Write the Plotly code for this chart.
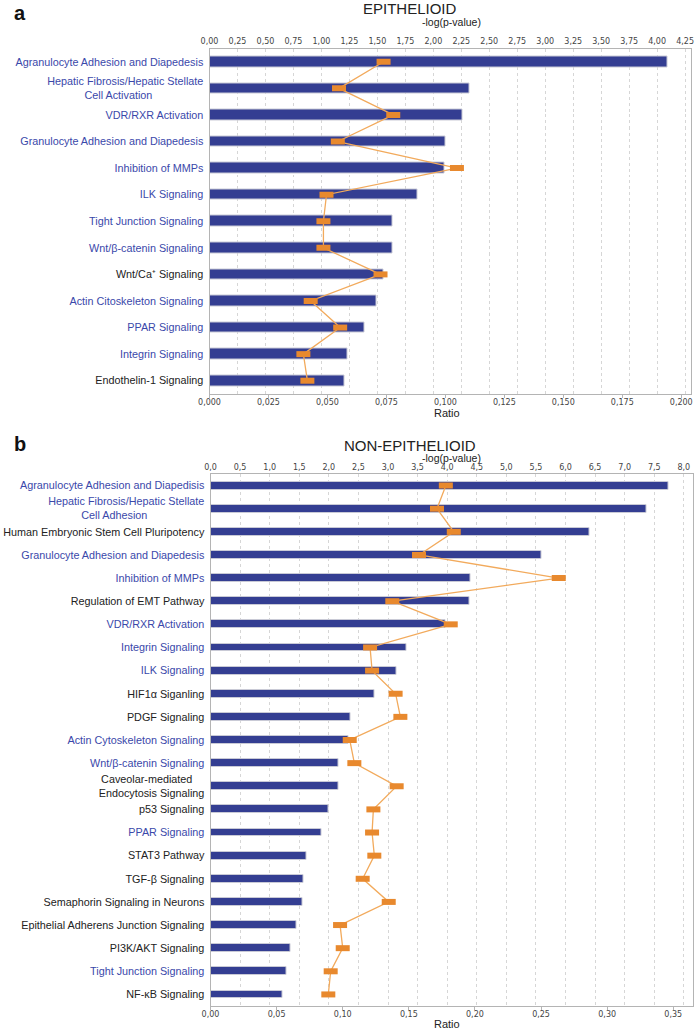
import plotly.graph_objects as go

# ---------------- Data ----------------
epi_labels = [
    "Agranulocyte Adhesion and Diapedesis",
    "Hepatic Fibrosis/Hepatic Stellate<br>Cell Activation",
    "VDR/RXR Activation",
    "Granulocyte Adhesion and Diapedesis",
    "Inhibition of MMPs",
    "ILK Signaling",
    "Tight Junction Signaling",
    "Wnt/β-catenin Signaling",
    "Wnt/Ca⁺ Signaling",
    "Actin Citoskeleton Signaling",
    "PPAR Signaling",
    "Integrin Signaling",
    "Endothelin-1 Signaling",
]
epi_blue = [1, 1, 1, 1, 1, 1, 1, 1, 0, 1, 1, 1, 0]
epi_logp = [4.09, 2.32, 2.26, 2.105, 2.10, 1.856, 1.633, 1.633, 1.553, 1.491, 1.387, 1.23, 1.203]
epi_ratio = [0.0738, 0.0549, 0.0779, 0.0544, 0.1049, 0.0496, 0.0483, 0.0483, 0.0725, 0.0429, 0.0554, 0.0398, 0.0415]

non_labels = [
    "Agranulocyte Adhesion and Diapedisis",
    "Hepatic Fibrosis/Hepatic Stellate<br>Cell Adhesion",
    "Human Embryonic Stem Cell Pluripotency",
    "Granulocyte Adhesion and Diapedesis",
    "Inhibition of MMPs",
    "Regulation of EMT Pathway",
    "VDR/RXR Activation",
    "Integrin Signaling",
    "ILK Signaling",
    "HIF1α Siganling",
    "PDGF Signaling",
    "Actin Cytoskeleton Signaling",
    "Wnt/β-catenin Signaling",
    "Caveolar-mediated<br>Endocytosis Signaling",
    "p53 Signaling",
    "PPAR Signaling",
    "STAT3 Pathway",
    "TGF-β Signaling",
    "Semaphorin Signaling in Neurons",
    "Epithelial Adherens Junction Signaling",
    "PI3K/AKT Signaling",
    "Tight Junction Signaling",
    "NF-κB Signaling",
]
non_blue = [1, 1, 0, 1, 1, 0, 1, 1, 1, 0, 0, 1, 1, 0, 0, 1, 0, 0, 0, 0, 0, 1, 0]
non_logp = [7.735, 7.37, 6.41, 5.60, 4.39, 4.37, 3.97, 3.31, 3.15, 2.77, 2.37, 2.33, 2.155,
            2.155, 1.99, 1.88, 1.63, 1.575, 1.56, 1.45, 1.355, 1.28, 1.215]
non_ratio = [0.178, 0.1713, 0.184, 0.1577, 0.2634, 0.1375, 0.1817, 0.1207, 0.1222, 0.140,
             0.1436, 0.1053, 0.1088, 0.1408, 0.1232, 0.1222, 0.1239, 0.1151, 0.1348, 0.098,
             0.100, 0.0909, 0.0891]

epi_logp_ticks = [i * 0.25 for i in range(18)]
epi_ratio_ticks = [i * 0.025 for i in range(9)]
non_logp_ticks = [i * 0.5 for i in range(17)]
non_ratio_ticks = [i * 0.05 for i in range(8)]

# ---------------- Styles ----------------
BAR = "#343e92"
BLUE_TXT = "#3a48aa"
BLACK_TXT = "#222222"
ORANGE_LINE = "#f2aa5c"
ORANGE_MK = "#e8892e"
AXIS_GRAY = "#b4b4b4"
GRID = "#d6d6d6"
TICKFONT = dict(family="DejaVu Sans", size=8, color="#444444")
LABELFONT = dict(family="Liberation Sans, Arial", size=10.8)


def colored(labels, flags):
    """Colour each tick label; centre multi-line labels by padding the shorter line."""
    out = []
    for lab, b in zip(labels, flags):
        c = BLUE_TXT if b else BLACK_TXT
        parts = lab.split("<br>")
        if len(parts) > 1:
            longest = max(len(p) for p in parts)
            parts = [p + ("\u00a0" * round((longest - len(p)) * 5.7 / 2 / 3.0) + "\u200b"
                          if len(p) < longest else "") for p in parts]
        out.append("<br>".join(f'<span style="color:{c}">{p}</span>' for p in parts))
    return out


fig = go.Figure()

MK = dict(symbol="line-ew", size=10, line=dict(color=ORANGE_MK, width=6))

# Panel a: bars on x (top, -log p), line on x2 (bottom, ratio) overlaying
fig.add_trace(go.Bar(
    y=epi_labels, x=epi_logp, orientation="h", xaxis="x", yaxis="y",
    marker=dict(color=BAR, line=dict(color="#c9cad6", width=1)), width=0.40,
    showlegend=False))
fig.add_trace(go.Scatter(
    y=epi_labels, x=epi_ratio, xaxis="x2", yaxis="y", mode="lines+markers",
    line=dict(color=ORANGE_LINE, width=1.3), marker=MK, showlegend=False))

# Panel b
fig.add_trace(go.Bar(
    y=non_labels, x=non_logp, orientation="h", xaxis="x3", yaxis="y3",
    marker=dict(color=BAR, line=dict(color="#c9cad6", width=1)), width=0.34,
    showlegend=False))
fig.add_trace(go.Scatter(
    y=non_labels, x=non_ratio, xaxis="x4", yaxis="y3", mode="lines+markers",
    line=dict(color=ORANGE_LINE, width=1.3), marker=MK, showlegend=False))

W, H = 697, 1030
xa0, xa1 = 209.5 / W, 690.7 / W
ya_top, ya_bot = 1 - 48.5 / H, 1 - 394 / H
xb0, xb1 = 210.5 / W, 692.7 / W
yb_top, yb_bot = 1 - 474 / H, 1 - 1006 / H

common_x = dict(showline=True, linecolor=AXIS_GRAY, linewidth=1, mirror=False,
                tickfont=TICKFONT, zeroline=False, fixedrange=True, automargin=False)
common_y = dict(tickfont=LABELFONT, showline=True, linecolor=AXIS_GRAY, mirror=True,
                showgrid=False, ticks="", ticklabelstandoff=3, fixedrange=True,
                automargin=False, tickmode="array")

fig.update_layout(
    width=W, height=H,
    margin=dict(l=0, r=0, t=0, b=0),
    paper_bgcolor="white", plot_bgcolor="white",
    separators=", ",
    bargap=0,
    # ---- panel a
    xaxis=dict(domain=[xa0, xa1], anchor="y", side="top", range=[0, 4.30],
               tickvals=epi_logp_ticks, tickformat=".2f", showgrid=True,
               gridcolor=GRID, griddash="dot", gridwidth=1, ticks="", **common_x),
    xaxis2=dict(domain=[xa0, xa1], anchor="y", overlaying="x", side="bottom", range=[0, 0.2040],
                tickvals=epi_ratio_ticks, tickformat=".3f", showgrid=False,
                ticks="outside", ticklen=3, tickcolor=AXIS_GRAY, ticklabelstandoff=-3, **common_x),
    yaxis=dict(domain=[ya_bot, ya_top], anchor="x", range=[len(epi_labels) - 0.5, -0.5],
               tickvals=epi_labels, ticktext=colored(epi_labels, epi_blue), **common_y),
    # ---- panel b
    xaxis3=dict(domain=[xb0, xb1], anchor="y3", side="top", range=[0, 8.15],
                tickvals=non_logp_ticks, tickformat=".1f", showgrid=True,
                gridcolor=GRID, griddash="dot", gridwidth=1, ticks="", **common_x),
    xaxis4=dict(domain=[xb0, xb1], anchor="y3", overlaying="x3", side="bottom", range=[0, 0.3647],
                tickvals=non_ratio_ticks, tickformat=".2f", showgrid=False,
                ticks="outside", ticklen=3, tickcolor=AXIS_GRAY, ticklabelstandoff=-3, **common_x),
    yaxis3=dict(domain=[yb_bot, yb_top], anchor="x3", range=[len(non_labels) - 0.5, -0.5],
                tickvals=non_labels, ticktext=colored(non_labels, non_blue), **common_y),
)

FONT = "Liberation Sans, Arial"
ann = [
    dict(text="<b>a</b>", x=20 / W, y=1 - 13 / H, font=dict(size=20, family=FONT, color="#111")),
    dict(text="EPITHELIOID", x=410 / W, y=1 - 9 / H, font=dict(size=15, family=FONT, color="#222")),
    dict(text="-log(p-value)", x=452 / W, y=1 - 22 / H, font=dict(size=10.5, family=FONT, color="#222")),
    dict(text="Ratio", x=447 / W, y=1 - 413 / H, font=dict(size=11, family=FONT, color="#222")),
    dict(text="<b>b</b>", x=20 / W, y=1 - 444 / H, font=dict(size=20, family=FONT, color="#111")),
    dict(text="NON-EPITHELIOID", x=410 / W, y=1 - 445 / H, font=dict(size=15, family=FONT, color="#222")),
    dict(text="-log(p-value)", x=452 / W, y=1 - 458 / H, font=dict(size=10.5, family=FONT, color="#222")),
    dict(text="Ratio", x=447 / W, y=1 - 1024 / H, font=dict(size=11, family=FONT, color="#222")),
]
for a in ann:
    a.update(xref="paper", yref="paper", showarrow=False, xanchor="center", yanchor="middle")
    fig.add_annotation(**a)

fig.write_html("out.html", config={"displayModeBar": False},
               post_script="document.body.style.margin='0';document.body.style.padding='0';")
